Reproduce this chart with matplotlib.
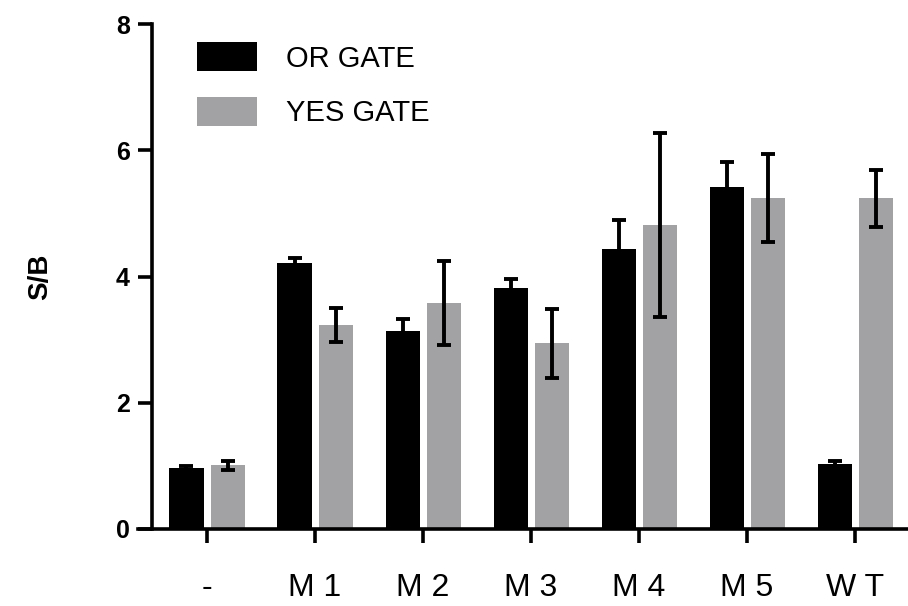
import numpy as np
import matplotlib
matplotlib.use("Agg")
import matplotlib.pyplot as plt

plt.rcParams["font.family"] = ["Liberation Sans", "DejaVu Sans"]

# Data
categories = ["-", "M 1", "M 2", "M 3", "M 4", "M 5", "W T"]
or_gate = [0.96, 4.21, 3.14, 3.81, 4.43, 5.42, 1.03]
or_err = [0.04, 0.08, 0.18, 0.15, 0.47, 0.39, 0.04]
yes_gate = [1.01, 3.23, 3.58, 2.94, 4.82, 5.24, 5.24]
yes_err = [0.07, 0.27, 0.66, 0.55, 1.46, 0.70, 0.45]
y_ticks = [0, 2, 4, 6, 8]

black = "#000000"
gray = "#a2a2a5"

fig = plt.figure(figsize=(9.08, 6.06), dpi=100)
ax = fig.add_axes([138 / 908, 77 / 606, 770 / 908, (529 - 24) / 606])

# spine position first: moving it resets the tick label styles
ax.spines["top"].set_visible(False)
ax.spines["right"].set_visible(False)
ax.spines["left"].set_position(("data", -0.509))
ax.spines["left"].set_linewidth(2.6)
ax.spines["bottom"].set_linewidth(2.6)

x = np.arange(len(categories))
width = 0.315
offset = 0.19

ax.bar(x - offset, or_gate, width, color=black, label="OR GATE", zorder=2)
ax.bar(x + offset, yes_gate, width, color=gray, label="YES GATE", zorder=2)

err_style = dict(fmt="none", ecolor=black, elinewidth=2.8, capsize=5, capthick=2.8, zorder=3)
ax.errorbar(x - offset, or_gate, yerr=or_err, **err_style)
ax.errorbar(x + offset, yes_gate, yerr=yes_err, **err_style)

ax.set_xlim(-0.639, 6.49)
ax.set_ylim(0, 8)
ax.tick_params(axis="both", direction="out", length=10, width=2.6)
ax.tick_params(axis="y", pad=6, labelsize=18)
ax.tick_params(axis="x", pad=22, labelsize=23)
ax.set_yticks(y_ticks, labels=[str(v) for v in y_ticks], fontsize=18, fontweight="bold")
ax.set_xticks(x, labels=categories, fontsize=23)

fig.text(40 / 908, 1 - 277 / 606, "S/B", rotation=90, ha="center", va="center",
         fontsize=20, fontweight="bold")

ax.legend(loc="upper left", bbox_to_anchor=(197 / 908, 1 - 42 / 606),
          bbox_transform=fig.transFigure, frameon=False, fontsize=21,
          handlelength=2.07, handleheight=1.17, handletextpad=0.97,
          labelspacing=0.83, borderpad=0, borderaxespad=0)

fig.savefig("out.png", dpi=100)
